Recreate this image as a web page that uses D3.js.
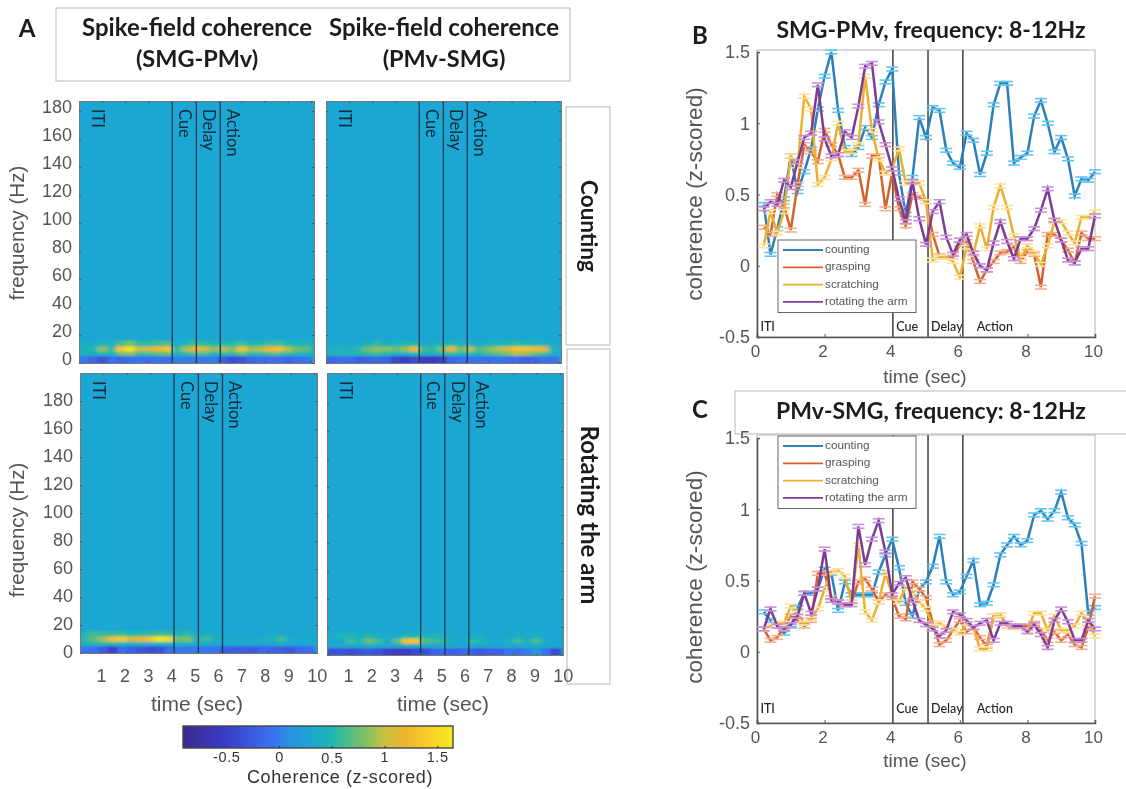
<!DOCTYPE html>
<html><head><meta charset="utf-8">
<script src="https://cdn.jsdelivr.net/npm/d3@7"></script>
<style>
html,body{margin:0;padding:0;background:#fff}
svg{display:block}
text{font-family:"Liberation Sans",Arial,sans-serif}
.cal{font-family:Lato,"Open Sans",sans-serif}
</style></head><body>
<svg id="c" width="1126" height="789"></svg>
<script>
// ---------- line chart data (8-12 Hz coherence) ----------
const timeSec=[0.2,0.4,0.6,0.8,1,1.2,1.4,1.6,1.8,2,2.2,2.4,2.6,2.8,3,3.2,3.4,3.6,3.8,4,4.2,4.4,4.6,4.8,5,5.2,5.4,5.6,5.8,6,6.2,6.4,6.6,6.8,7,7.2,7.4,7.6,7.8,8,8.2,8.4,8.6,8.8,9,9.2,9.4,9.6,9.8,10];
const seriesNames=["counting","grasping","scratching","rotating the arm"];
const bCounting=[.43,.08,.26,.47,.77,.52,.66,.82,1.10,1.33,1.5,1.09,.83,.78,.83,.97,.90,1.13,1.29,1.38,.65,.36,.62,1.04,.90,1.11,1.09,.81,.72,.69,.93,.88,.64,.79,1.13,1.28,1.28,.72,.76,.79,1.05,1.16,1.00,.80,.90,.75,.49,.61,.60,.66];
const bGrasping=[.27,.22,.50,.42,.25,.57,.85,.80,.73,.95,.85,.78,.62,.62,.67,.43,.77,.77,.40,.65,.40,.28,.50,.48,.45,.22,.07,.06,.06,.15,.17,.03,-.11,-.03,.03,.09,.10,.13,.03,.10,.08,-.15,.22,.22,.18,.11,.02,.23,.19,.19];
const bScratching=[.14,.38,.23,.38,.77,.70,1.19,1.10,.57,.62,.75,1.00,.80,.80,.85,1.33,.95,.75,.65,.68,.82,.58,.58,.58,.45,.04,.06,.06,.03,-.08,.13,.08,.28,.12,.41,.56,.41,.21,.05,.14,.09,.01,.14,.31,.31,.23,.16,.34,.34,.38];
const bRotating=[.40,.45,.43,.60,.55,.73,.90,.93,1.27,.89,.77,.78,.94,.90,1.12,1.40,1.42,1.01,.85,.68,.47,.31,.59,.33,.15,.38,.45,.20,.08,.18,.22,.09,.00,-.03,.16,.31,.17,.05,.19,.19,.26,.39,.54,.32,.18,.04,.02,.12,.12,.35];
const cCounting=[.28,.22,.18,.13,.18,.31,.41,.41,.44,.58,.55,.29,.49,.40,.40,.40,.40,.56,.68,.79,.59,.34,.25,.44,.49,.60,.81,.49,.40,.42,.53,.64,.33,.34,.47,.68,.75,.81,.75,.78,.96,.99,.93,.99,1.12,.94,.89,.76,.27,.31];
const cGrasping=[.16,.08,.10,.17,.25,.22,.18,.22,.55,.55,.38,.35,.33,.35,.49,.51,.44,.35,.40,.38,.25,.23,.49,.44,.38,.20,.05,.08,.15,.22,.14,.17,.10,.04,.25,.26,.18,.17,.18,.18,.20,.15,.08,.14,.08,.12,.05,.03,.17,.39];
const cScratching=[.16,.18,.20,.20,.32,.27,.20,.23,.30,.44,.56,.57,.53,.35,.75,.28,.22,.35,.55,.40,.35,.45,.42,.35,.30,.18,.20,.17,.15,.13,.20,.17,.02,.02,.25,.26,.18,.17,.18,.15,.27,.27,.15,.25,.15,.15,.18,.27,.20,.11];
const cRotating=[.16,.30,.18,.16,.19,.25,.41,.27,.44,.72,.36,.35,.33,.33,.88,.61,.79,.92,.70,.40,.48,.52,.36,.22,.19,.16,.11,.15,.28,.26,.22,.17,.20,.22,.08,.20,.20,.18,.18,.14,.19,.12,.03,.22,.30,.21,.08,.08,.22,.16];
const semZ=.013;
const eventTimes=[4.02,5.06,6.09];
const eventLabels=["ITI","Cue","Delay","Action"];
const eventLabelTimes=[0.1,4.12,5.15,6.5];

// ---------- heat map data: low-frequency rows, 25 time bins of 0.4 s ----------
const heatBase=.3;
const bandEdges=[0,5,8,12,16];
const p1Row0=[-.05,-.15,-.3,-.1,-.15,-.1,-.05,-.1,-.05,-.1,0,0,0,-.05,0,-.2,-.35,-.3,-.15,-.1,-.1,-.1,-.15,-.1,-.05];
const p1Row1=[.4,.4,.5,.45,.75,.85,.6,.6,.7,.75,.4,.55,.65,.65,.5,.55,.55,.7,.55,.55,.65,.65,.55,.5,.5];
const p1Row2=[.45,.5,.85,.6,1.35,1.75,1.0,1.05,1.2,1.35,.55,.9,1.2,1.05,.85,.95,.8,1.3,.9,.95,1.2,1.3,.95,.75,.7];
const p1Row3=[.35,.35,.45,.4,.65,.8,.55,.55,.6,.7,.35,.5,.6,.55,.5,.5,.5,.6,.5,.5,.6,.6,.5,.45,.45];
const p2Row0=[-.15,-.1,-.1,-.2,-.2,-.15,-.2,-.4,-.5,-.35,-.5,-.55,-.45,-.15,-.1,-.1,-.05,-.1,-.05,-.1,-.1,-.2,-.15,-.05,-.1];
const p2Row1=[.45,.5,.5,.5,.55,.6,.5,.4,.4,.5,.4,.4,.45,.55,.5,.5,.45,.6,.7,.8,.95,.9,.75,.6,.4];
const p2Row2=[.4,.45,.4,.55,.75,.85,.8,.75,.85,1.25,.6,.55,.8,1.2,.75,.95,.65,.8,.95,1.05,1.35,1.3,1.25,1.15,.45];
const p2Row3=[.33,.33,.33,.35,.42,.55,.4,.45,.5,.5,.35,.35,.45,.5,.45,.4,.35,.4,.45,.5,.55,.5,.45,.4,.33];
const p3Row0=[-.05,-.1,-.25,-.45,-.1,-.2,-.3,-.35,-.3,-.1,-.05,-.05,-.05,-.05,-.05,-.25,-.2,-.2,-.25,-.15,-.2,-.2,-.25,-.15,-.1];
const p3Row1=[.45,.5,.55,.5,.45,.4,.45,.4,.45,.4,.4,.45,.35,.35,.3,.3,.3,.3,.3,.3,.3,.35,.3,.3,.3];
const p3Row2=[.55,.7,.9,1.3,1.4,1.05,1.2,1.35,1.7,1.5,.75,.8,.45,.6,.4,.35,.35,.35,.35,.38,.45,.6,.35,.33,.33];
const p3Row3=[.45,.6,.55,.55,.55,.5,.5,.55,.6,.55,.45,.55,.35,.4,.33,.3,.3,.3,.3,.3,.32,.35,.3,.3,.3];
const p4Row0=[-.35,-.3,-.35,-.3,-.25,-.3,-.45,-.5,-.5,-.4,-.35,-.2,-.15,-.2,-.15,-.2,-.25,-.2,-.2,-.05,-.1,0,.15,-.1,-.4];
const p4Row1=[.33,.33,.35,.35,.35,.33,.33,.33,.35,.38,.35,.35,.33,.33,.33,.33,.33,.33,.33,.33,.33,.35,.38,.33,.3];
const p4Row2=[.3,.35,.6,.5,.75,.6,.35,.7,1.3,1.35,.65,.6,.55,.35,.3,.55,.5,.33,.33,.4,.6,.45,.65,.35,.3];
const p4Row3=[.35,.5,.45,.4,.5,.4,.33,.33,.45,.5,.45,.45,.35,.32,.3,.35,.35,.3,.3,.32,.38,.35,.4,.3,.3];
const binStarts=[0,.4,.8,1.2,1.6,2,2.4,2.8,3.2,3.6,4,4.4,4.8,5.2,5.6,6,6.4,6.8,7.2,7.6,8,8.4,8.8,9.2,9.6];
const freqTicks=[0,20,40,60,80,100,120,140,160,180];
const timeTicks=[1,2,3,4,5,6,7,8,9,10];
const colorbarTicks=[-0.5,0,0.5,1,1.5];
const colorValues=[-.91,-.5,-.1,.1,.3,.5,.75,1.0,1.2,1.4,1.65];
const colorStops=["#3b2a8f","#3a3cc8","#3a6ef0","#2a90e0","#1ca6d3","#1fb8b0","#6abf70","#c8c040","#eeb52f","#f8cc2a","#f6ea1c"];

const svg=d3.select("#c");
const defs=svg.append("defs");
defs.append("filter").attr("id","soft").attr("x","-5%").attr("y","-5%").attr("width","110%").attr("height","110%")
  .append("feGaussianBlur").attr("stdDeviation",.55);
const hb=defs.append("filter").attr("id","heatblur").attr("filterUnits","userSpaceOnUse").attr("x",0).attr("y",0).attr("width",1126).attr("height",789);
hb.append("feGaussianBlur").attr("stdDeviation","2 1.1");
const root=svg.append("g").attr("filter","url(#soft)");
root.append("rect").attr("width",1126).attr("height",789).attr("fill","#fff");

const color=d3.scaleLinear().domain(colorValues).range(colorStops).clamp(true);
const grey="#555";
const hy=d=>String(d).replace("\u2212","-");

function box(x,y,w,h){root.append("rect").attr("x",x).attr("y",y).attr("width",w).attr("height",h).attr("fill","#fff").attr("stroke","#c4c4c4").attr("stroke-width",1.2);}
function label(t,x,y,o={}){
  const e=root.append("text").attr("x",x).attr("y",y).attr("text-anchor",o.anchor||"middle").attr("dominant-baseline","middle")
    .attr("font-size",o.size||18).attr("fill",o.fill||grey).text(t);
  if(o.cal)e.attr("class","cal").attr("font-weight",o.weight||700);
  if(o.rot)e.attr("transform",`rotate(${o.rot} ${x} ${y})`);
  if(o.ls)e.attr("letter-spacing",o.ls);
  return e;
}
// ---- outer boxes
box(56,8,514,73);box(566,107,44,238);box(567,349,43,335);box(735,391,400,43);

// ---- heat panels
const panels=[
 {x0:79,x1:314,y0:101,y1:363,rows:[p1Row0,p1Row1,p1Row2,p1Row3],yl:true,xl:false,yOff:-3},
 {x0:326,x1:561,y0:101,y1:363,rows:[p2Row0,p2Row1,p2Row2,p2Row3],yl:false,xl:false,yOff:-3},
 {x0:80,x1:317,y0:373,y1:653,rows:[p3Row0,p3Row1,p3Row2,p3Row3],yl:true,xl:true,yOff:0},
 {x0:327,x1:563,y0:373,y1:655,rows:[p4Row0,p4Row1,p4Row2,p4Row3],yl:false,xl:true,yOff:0}];
panels.forEach((p,pi)=>{
  const x=d3.scaleLinear().domain([0,10.13]).range([p.x0,p.x1]);
  const y=d3.scaleLinear().domain([0,(p.y1-p.y0)/1.4]).range([p.y1,p.y0]);
  const g=root.append("g");
  const cid="clipH"+pi;
  defs.append("clipPath").attr("id",cid).append("rect").attr("x",p.x0).attr("y",p.y0).attr("width",p.x1-p.x0).attr("height",p.y1-p.y0);
  const cg=g.append("g").attr("clip-path",`url(#${cid})`);
  cg.append("rect").attr("x",p.x0).attr("y",p.y0).attr("width",p.x1-p.x0).attr("height",p.y1-p.y0).attr("fill",color(heatBase));
  const bl=cg.append("g").attr("filter","url(#heatblur)");
  p.rows.forEach((vals,r)=>{
    bl.selectAll(null).data(vals).join("rect")
      .attr("x",(d,i)=>x(binStarts[i]))
      .attr("width",(d,i)=>x(.4)-x(0)+.5)
      .attr("y",y(bandEdges[r+1]))
      .attr("height",y(bandEdges[r])-y(bandEdges[r+1])+(r===0?8:0))
      .attr("fill",d=>color(d));
  });
  cg.selectAll(null).data(p.rows[0]).join("rect")
    .attr("x",(d,i)=>x(binStarts[i])).attr("width",x(.4)-x(0)+.5)
    .attr("y",y(4)).attr("height",y(0)-y(4)).attr("fill",d=>color(d)).attr("opacity",.6);
  g.selectAll(null).data(eventTimes).join("line")
    .attr("x1",d=>x(d)).attr("x2",d=>x(d)).attr("y1",p.y0).attr("y2",p.y1)
    .attr("stroke","#123a52").attr("stroke-width",1.3);
  const ax=g.append("g").attr("transform",`translate(0,${p.y1})`).call(d3.axisTop(x).tickValues(timeTicks).tickSize(2).tickFormat(p.xl?null:""));
  ax.select(".domain").attr("stroke","#777");
  ax.selectAll("line").attr("stroke","#555");
  ax.selectAll("text").attr("text-anchor","start").attr("font-size",18).attr("font-family","Liberation Sans")
     .attr("fill",grey).attr("dy",0).attr("y",0).attr("x",-7.3)
     .attr("transform",`translate(0,${677-p.y1})`).attr("dominant-baseline","middle");
  const ay=g.append("g").attr("transform",`translate(${p.x0},0)`).call(d3.axisRight(y).tickValues(freqTicks).tickSize(2).tickFormat(p.yl?null:""));
  ay.select(".domain").attr("stroke","#777");
  ay.selectAll("line").attr("stroke","#555");
  ay.selectAll("text").attr("text-anchor","end").attr("font-size",18).attr("font-family","Liberation Sans")
     .attr("fill",grey).attr("x",-7).attr("dy",0).attr("y",p.yOff).attr("dominant-baseline","middle");
  g.append("g").attr("transform",`translate(0,${p.y0})`).call(d3.axisBottom(x).tickValues(timeTicks).tickSize(2).tickFormat("")).call(a=>{a.select(".domain").attr("stroke","#777");a.selectAll("line").attr("stroke","#555");});
  g.append("g").attr("transform",`translate(${p.x1},0)`).call(d3.axisLeft(y).tickValues(freqTicks).tickSize(2).tickFormat("")).call(a=>{a.select(".domain").attr("stroke","#777");a.selectAll("line").attr("stroke","#555");});
  eventLabels.forEach((t,i)=>{
    const tx=i===0?x(.72):x(eventTimes[i-1])+11;
    g.append("text").attr("class","cal").attr("font-size",16.5).attr("font-weight",400).attr("fill","#12293a")
      .attr("dominant-baseline","middle").attr("transform",`translate(${tx},${p.y0+8}) rotate(90)`).text(t);
  });
});
label("frequency (Hz)",19,233,{rot:-90,size:20.5});
label("frequency (Hz)",19,530,{rot:-90,size:20.5});
label("time (sec)",197,705,{size:21});
label("time (sec)",443,705,{size:21});

// ---- colorbar
const cbScale=d3.scaleLinear().domain([-.91,1.65]).range([183,453]);
const gid="cbGrad";
const lg=defs.append("linearGradient").attr("id",gid);
colorValues.forEach((v,i)=>lg.append("stop").attr("offset",(v+.91)/2.56).attr("stop-color",colorStops[i]));
root.append("rect").attr("x",183).attr("y",726).attr("width",270).attr("height",22).attr("fill",`url(#${gid})`).attr("stroke","#444").attr("stroke-width",1.4);
const cbAxis=root.append("g").attr("transform","translate(0,748)").call(d3.axisTop(cbScale).tickValues(colorbarTicks).tickSize(2).tickFormat(d=>hy(d)));
cbAxis.select(".domain").remove();
cbAxis.selectAll("line").attr("stroke","#333");
cbAxis.selectAll("text").attr("font-size",14.5).attr("font-family","Liberation Sans").attr("fill","#333").attr("text-anchor","middle")
  .attr("y",0).attr("dy",0).attr("dominant-baseline","middle").attr("transform",d=>`translate(0,${d===.5?11:10})`).attr("letter-spacing",.6);
label("Coherence (z-scored)",340,778,{size:18,fill:"#333",ls:.6});

// ---- line panels
const lineColors=["#2a80bc","#d4622c","#ecb02f","#7e3a96"];
const capColors=["#63c4f2","#f4ad90","#fbe2a0","#cb8fd8"];
function linePanel(top,y15,y0n,names,legendY,labelY,axY){
  const x=d3.scaleLinear().domain([0,10]).range([757,1095]);
  const y=d3.scaleLinear().domain([-.5,1.5]).range([y0n,y15]);
  const g=root.append("g");
  g.append("rect").attr("x",757).attr("y",top).attr("width",338).attr("height",y0n-top).attr("fill","none").attr("stroke","#c2c2c2").attr("stroke-width",1.2);
  const ax=g.append("g").attr("transform",`translate(0,${y0n})`).call(d3.axisTop(x).tickValues([0,2,4,6,8,10]).tickSize(3).tickFormat(d3.format("d")));
  ax.select(".domain").attr("stroke",grey).attr("stroke-width",1.6);
  ax.selectAll("line").attr("stroke",grey);
  ax.selectAll("text").attr("font-size",17).attr("font-family","Liberation Sans").attr("fill",grey).attr("text-anchor","middle")
    .attr("y",0).attr("dy",0).attr("x",-2).attr("dominant-baseline","middle").attr("transform","translate(0,16)");
  const ay=g.append("g").attr("transform",`translate(757,0)`).call(d3.axisRight(y).tickValues([-.5,0,.5,1,1.5]).tickSize(3).tickFormat(d=>hy(d)));
  ay.select(".domain").attr("stroke",grey).attr("stroke-width",1.6);
  ay.selectAll("line").attr("stroke",grey);
  ay.selectAll("text").attr("font-size",18).attr("font-family","Liberation Sans").attr("fill",grey).attr("text-anchor","end")
    .attr("x",-7).attr("y",1).attr("dy",0).attr("dominant-baseline","middle");
  g.selectAll(null).data(eventTimes).join("line").attr("x1",d=>x(d)).attr("x2",d=>x(d)).attr("y1",top).attr("y2",y0n)
    .attr("stroke",grey).attr("stroke-width",1.7);
  const line=d3.line().x((d,i)=>x(timeSec[i])).y(d=>y(d));
  names.forEach((vals,s)=>{
    const sg=g.append("g");
    sg.append("path").attr("d",line(vals)).attr("fill","none").attr("stroke",lineColors[s]).attr("stroke-width",2.5);
    [semZ,-semZ].forEach(sign=>{
      sg.selectAll(null).data(vals).join("line")
       .attr("x1",(d,i)=>x(timeSec[i])-6).attr("x2",(d,i)=>x(timeSec[i])+6)
       .attr("y1",d=>y(d+sign)).attr("y2",d=>y(d+sign))
       .attr("stroke",capColors[s]).attr("stroke-width",1.6);
    });
  });
  const lgd=g.append("g");
  lgd.append("rect").attr("x",778).attr("y",legendY).attr("width",138).attr("height",72.5).attr("fill","#fff").attr("stroke","#666").attr("stroke-width",1);
  seriesNames.forEach((n,i)=>{
    const ly=legendY+10+i*17.3;
    lgd.append("line").attr("x1",783).attr("x2",823).attr("y1",ly).attr("y2",ly).attr("stroke",lineColors[i]).attr("stroke-width",1.8);
    lgd.append("text").attr("x",825).attr("y",ly).attr("dominant-baseline","middle").attr("font-size",11.8).attr("fill","#555").text(n);
  });
  eventLabels.forEach((t,i)=>{
    g.append("text").attr("class","cal").attr("x",x(eventLabelTimes[i])).attr("y",labelY).attr("dominant-baseline","middle")
      .attr("font-size",12.5).attr("font-weight",500).attr("fill","#222").text(t);
  });
  label("time (sec)",925,axY,{size:19});
}
linePanel(50,52,337,[bCounting,bGrasping,bScratching,bRotating],240,328,378);
linePanel(435,438,723,[cCounting,cGrasping,cScratching,cRotating],436,710,762);
label("coherence (z-scored)",696,194,{rot:-90,size:22.6});
label("coherence (z-scored)",696,577,{rot:-90,size:22.6});

// ---- titles and letters
const dark="#1b1b1b";
label("Spike-field coherence",197,30,{cal:1,size:24,fill:dark});
label("(SMG-PMv)",197,61,{cal:1,size:23.5,fill:dark});
label("Spike-field coherence",444,30,{cal:1,size:24,fill:dark});
label("(PMv-SMG)",444,61,{cal:1,size:23.5,fill:dark});
label("Counting",587,226,{cal:1,size:22.5,fill:dark,rot:90});
label("Rotating the arm",587,515,{cal:1,size:24,fill:dark,rot:90});
label("SMG-PMv, frequency: 8-12Hz",931,32,{cal:1,size:23,fill:dark});
label("PMv-SMG, frequency: 8-12Hz",931,413,{cal:1,size:23,fill:dark});
label("A",27,31,{cal:1,size:24,fill:dark});
label("B",700,38,{cal:1,size:24,fill:dark});
label("C",700,412,{cal:1,size:24,fill:dark});
</script></body></html>
